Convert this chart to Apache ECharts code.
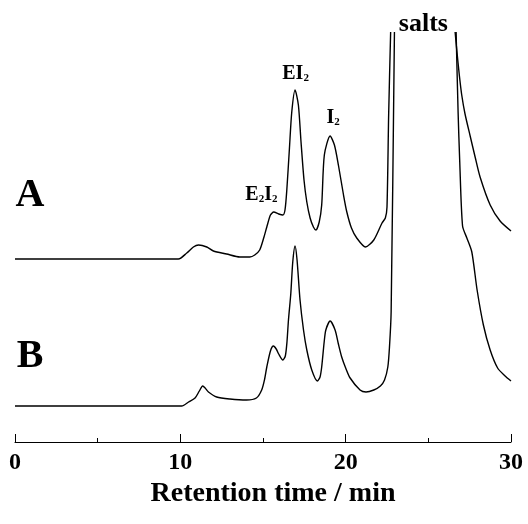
<!DOCTYPE html>
<html><head><meta charset="utf-8">
<script src="https://cdn.jsdelivr.net/npm/echarts@6/dist/echarts.min.js"></script>
<style>html,body{margin:0;padding:0;background:#fff}#c{width:528px;height:524px}</style>
</head><body><div id="c"></div>
<script>
// Retention time (min) and detector signal (arbitrary units, trace A drawn above trace B).
// null = pen off scale (salts peak).
const timeA = [0, 9.88, 10.39, 10.79, 11.1, 11.6, 12.0, 12.8, 13.6, 14.2, 14.5, 14.8, 15.06, 15.23, 15.45, 15.65, 15.95, 16.2, 16.33, 16.44, 16.6, 16.74, 16.94, 17.14, 17.3, 17.48, 17.65, 17.85, 18.05, 18.2, 18.4, 18.55, 18.71, 19.06, 19.32, 19.56, 19.87, 20.07, 20.35, 20.67, 21.2, 21.7, 22.2, 22.4, 22.5, 22.6, 22.72, 24.7, 26.62, 26.72, 26.88, 27.02, 27.22, 27.53, 27.83, 28.13, 28.74, 29.34, 30.0];
const signalA = [183, 183, 189, 195, 197, 195, 191, 188, 185, 185, 187, 192, 205, 215, 227, 230, 228, 227, 232, 252, 294, 330, 352, 337, 300, 262, 240, 224, 215, 212, 220, 237, 287, 306, 297, 277, 247, 230, 214, 204, 195, 202, 219, 224, 235, 327, 410, null, 410, 392, 366, 347, 328, 306, 285, 265, 237, 221, 211];
const timeB = [0, 10.08, 10.5, 10.89, 11.15, 11.35, 11.5, 11.7, 12.2, 13.0, 14.0, 14.6, 14.92, 15.1, 15.23, 15.45, 15.63, 15.8, 15.95, 16.2, 16.35, 16.45, 16.54, 16.68, 16.8, 16.94, 17.06, 17.24, 17.45, 17.65, 17.95, 18.29, 18.45, 18.55, 18.7, 18.8, 19.06, 19.36, 19.56, 19.76, 20.0, 20.27, 20.87, 21.23, 21.7, 22.1, 22.35, 22.55, 22.65, 22.75, 22.95, 24.8, 26.68, 26.8, 26.9, 27.07, 27.33, 27.63, 27.95, 28.33, 28.74, 29.19, 29.64, 30.0];
const signalB = [36, 36, 40, 44, 51, 56, 54, 50, 45, 43, 42, 44, 52, 63, 75, 91, 96, 93, 88, 82, 86, 100, 122, 148, 180, 196, 182, 142, 112, 92, 72, 61, 65, 75, 100, 112, 121, 112, 98, 85, 74, 64, 52, 50, 52, 56, 62, 75, 95, 130, 410, null, 410, 330, 280, 216, 204, 190, 152, 117, 92, 74, 66, 61];
const xTicks = [0, 10, 20, 30];
const traceNames = ['A', 'B'];
const peakNames = ['E|2|I|2', 'EI|2', 'I|2', 'salts'];
const axisTitle = 'Retention time / min';

const serif = '"Liberation Serif", "Times New Roman", serif';
function richText(name) {
  const parts = name.split('|');
  return parts.map((p, i) => (i % 2 === 0 ? '{m|' + p + '}' : '{s|' + p + '}')).join('');
}
const rich = {
  m: { fontSize: 20, fontWeight: 'bold', fontFamily: serif, color: '#000' },
  s: { fontSize: 11, fontWeight: 'bold', fontFamily: serif, color: '#000', verticalAlign: 'bottom' },
  big: { fontSize: 40, fontWeight: 'bold', fontFamily: serif, color: '#000' },
  salts: { fontSize: 26, fontWeight: 'bold', fontFamily: serif, color: '#000' }
};
const markBase = {
  symbol: 'rect', symbolSize: 1, silent: true, animation: false,
  itemStyle: { color: 'rgba(0,0,0,0)' },
  label: { show: true, position: 'inside', rich: rich }
};

const chart = echarts.init(document.getElementById('c'), null, { renderer: 'canvas' });
chart.setOption({
  animation: false,
  backgroundColor: '#fff',
  grid: { left: 15, right: 17, top: 12, bottom: 82, outerBoundsMode: 'none' },
  xAxis: {
    type: 'value', min: xTicks[0], max: xTicks[xTicks.length - 1], interval: 10,
    axisLine: { lineStyle: { color: '#000', width: 1 } },
    axisTick: { inside: true, length: 8, lineStyle: { color: '#000', width: 1 } },
    minorTick: { show: true, splitNumber: 2, length: 4, lineStyle: { color: '#000', width: 1 } },
    splitLine: { show: false },
    minorSplitLine: { show: false },
    axisLabel: { color: '#000', fontSize: 24, fontWeight: 'bold', fontFamily: serif, margin: 9 },
    name: axisTitle, nameLocation: 'middle', nameGap: 36,
    nameTextStyle: { color: '#000', fontSize: 28, fontWeight: 'bold', fontFamily: serif, padding: [0, 0, 0, 20] }
  },
  yAxis: { type: 'value', min: 0, max: 430, show: false },
  series: [
    {
      name: traceNames[0], type: 'line', showSymbol: false, smooth: 0.25,
      lineStyle: { color: '#000', width: 1.4 }, connectNulls: false,
      data: timeA.map((t, i) => [t, signalA[i]]),
      markPoint: Object.assign({}, markBase, {
        data: [
          { coord: [0.91, 246], label: { formatter: '{big|' + traceNames[0] + '}' } },
          { coord: [14.9, 247], label: { formatter: richText(peakNames[0]) } },
          { coord: [16.97, 368], label: { formatter: richText(peakNames[1]) } },
          { coord: [19.24, 324], label: { formatter: richText(peakNames[2]) } },
          { coord: [24.7, 418], label: { formatter: '{salts|' + peakNames[3] + '}' } }
        ]
      })
    },
    {
      name: traceNames[1], type: 'line', showSymbol: false, smooth: 0.25,
      lineStyle: { color: '#000', width: 1.4 }, connectNulls: false,
      data: timeB.map((t, i) => [t, signalB[i]]),
      markPoint: Object.assign({}, markBase, {
        data: [
          { coord: [0.91, 85], label: { formatter: '{big|' + traceNames[1] + '}' } }
        ]
      })
    }
  ]
});
</script>
</body></html>
